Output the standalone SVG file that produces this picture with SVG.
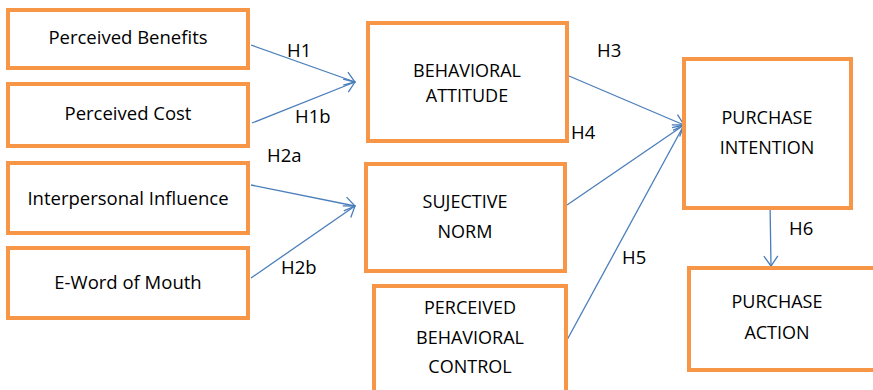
<svg xmlns="http://www.w3.org/2000/svg" width="873" height="390" viewBox="0 0 873 390">
<style>
.box{fill:#fff;stroke:#f79646;stroke-width:4}
.t{font-family:"Open Sans","Liberation Sans",sans-serif;font-size:18.5px;fill:#000;text-anchor:middle}
.u{font-size:18px}
.l{font-family:"Open Sans","Liberation Sans",sans-serif;font-size:18.5px;fill:#000}
.c{stroke:#4a7ebb;stroke-width:1.3;fill:none;marker-end:url(#arr)}
</style>
<defs>
<marker id="arr" markerUnits="userSpaceOnUse" markerWidth="14" markerHeight="16" viewBox="-11 -8 14 16" refX="0" refY="0" orient="auto">
<path d="M-10,-7 L0,0 L-10,7" fill="none" stroke="#4a7ebb" stroke-width="1.3"/>
</marker>
</defs>
<rect width="873" height="390" fill="#fff"/>
<g id="connectors">
<line class="c" x1="251" y1="45" x2="355" y2="82"/>
<line class="c" x1="252" y1="123" x2="355" y2="82"/>
<line class="c" x1="251" y1="185" x2="355" y2="206"/>
<line class="c" x1="251" y1="278" x2="355" y2="206"/>
<line class="c" x1="569" y1="76" x2="684" y2="125"/>
<line class="c" x1="567" y1="205" x2="684" y2="125"/>
<line class="c" x1="567" y1="340" x2="684" y2="125"/>
<line class="c" x1="770" y1="202" x2="771" y2="266"/>
</g>
<g id="labels">
<text class="l" x="287" y="57">H1</text>
<text class="l" x="295" y="123">H1b</text>
<text class="l" x="267" y="162">H2a</text>
<text class="l" x="281" y="274">H2b</text>
<text class="l" x="597" y="57">H3</text>
<text class="l" x="571" y="139">H4</text>
<text class="l" x="622" y="264">H5</text>
<text class="l" x="789" y="235">H6</text>
</g>
<g id="perceived-benefits">
<rect class="box" x="8" y="10" width="240" height="58"/>
<text class="t" x="128" y="44">Perceived Benefits</text>
</g>
<g id="perceived-cost">
<rect class="box" x="8" y="84" width="240" height="62"/>
<text class="t" x="128" y="120">Perceived Cost</text>
</g>
<g id="interpersonal-influence">
<rect class="box" x="8" y="163" width="240" height="70"/>
<text class="t" x="128" y="205">Interpersonal Influence</text>
</g>
<g id="e-word-of-mouth">
<rect class="box" x="8" y="248" width="240" height="70"/>
<text class="t" x="128" y="289">E-Word of Mouth</text>
</g>
<g id="behavioral-attitude">
<rect class="box" x="368" y="23" width="199" height="118"/>
<text class="t u" x="467" y="77">BEHAVIORAL</text>
<text class="t u" x="467" y="102">ATTITUDE</text>
</g>
<g id="sujective-norm">
<rect class="box" x="366" y="164" width="199" height="107"/>
<text class="t u" x="465" y="208">SUJECTIVE</text>
<text class="t u" x="465" y="238">NORM</text>
</g>
<g id="perceived-behavioral-control">
<rect class="box" x="374" y="286" width="192" height="106"/>
<text class="t u" x="470" y="314">PERCEIVED</text>
<text class="t u" x="470" y="344">BEHAVIORAL</text>
<text class="t u" x="470" y="373">CONTROL</text>
</g>
<g id="purchase-intention">
<rect class="box" x="684" y="59" width="167" height="149"/>
<text class="t u" x="767" y="124">PURCHASE</text>
<text class="t u" x="767" y="154">INTENTION</text>
</g>
<g id="purchase-action">
<rect class="box" x="689" y="268" width="190" height="102"/>
<text class="t u" x="777" y="308">PURCHASE</text>
<text class="t u" x="777" y="339">ACTION</text>
</g>
</svg>
